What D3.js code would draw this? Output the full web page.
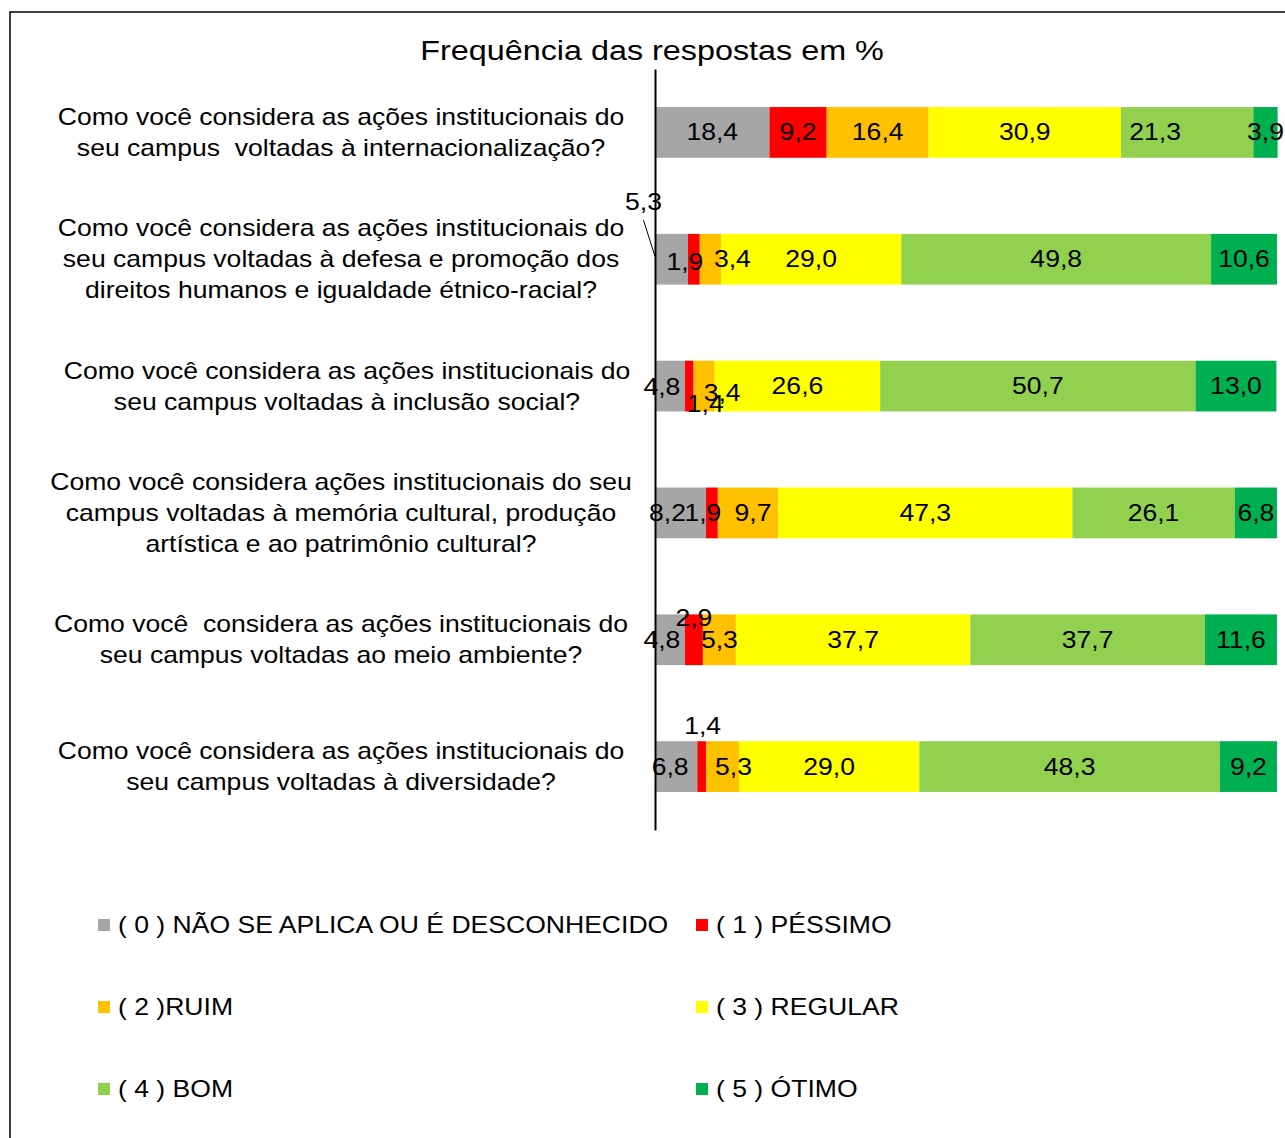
<!DOCTYPE html>
<html><head><meta charset="utf-8">
<script src="https://cdn.jsdelivr.net/npm/d3@7"></script>
<style>body{margin:0;background:#fff}svg{display:block;font-family:"Liberation Sans",Arial,sans-serif}</style>
</head><body>
<svg id="c" width="1285" height="1138"></svg>
<script>
const title = "Frequência das respostas em %";
const categories = [
  "Como você considera as ações institucionais do\nseu campus  voltadas à internacionalização?",
  "Como você considera as ações institucionais do\nseu campus voltadas à defesa e promoção dos\ndireitos humanos e igualdade étnico-racial?",
  "Como você considera as ações institucionais do\nseu campus voltadas à inclusão social?",
  "Como você considera ações institucionais do seu\ncampus voltadas à memória cultural, produção\nartística e ao patrimônio cultural?",
  "Como você  considera as ações institucionais do\nseu campus voltadas ao meio ambiente?",
  "Como você considera as ações institucionais do\nseu campus voltadas à diversidade?"
];
const seriesNames = ["( 0 ) NÃO SE APLICA OU É DESCONHECIDO","( 1 ) PÉSSIMO","( 2 )RUIM","( 3 ) REGULAR","( 4 ) BOM","( 5 ) ÓTIMO"];
const seriesColors = ["#A6A6A6","#FF0000","#FFC000","#FFFF00","#92D050","#00B050"];
const naoSeAplica = [18.4, 5.3, 4.8, 8.2, 4.8, 6.8];
const pessimo     = [9.2, 1.9, 1.4, 1.9, 2.9, 1.4];
const ruim        = [16.4, 3.4, 3.4, 9.7, 5.3, 5.3];
const regular     = [30.9, 29.0, 26.6, 47.3, 37.7, 29.0];
const bom         = [21.3, 49.8, 50.7, 26.1, 37.7, 48.3];
const otimo       = [3.9, 10.6, 13.0, 6.8, 11.6, 9.2];
const seriesValues = [naoSeAplica, pessimo, ruim, regular, bom, otimo];

// label placement adjustments (row-series : [dx, dy]) to mimic hand-placed labels
const nudge = {
  "0-4":[-32,0],
  "1-0":[-28,-57],"1-1":[-9,3],"1-2":[22,0],
  "2-0":[-8,1],"2-1":[16,18],"2-2":[18,7],
  "3-0":[-13,0],"3-1":[-9,0],"3-2":[5,0],
  "4-0":[-8,0],"4-1":[0,-22],
  "5-0":[-6,0],"5-1":[1,-41],"5-2":[11,0]
};
const leader = {"1-0":true};
const SX = 1.155; // horizontal stretch of the reference's text

const svg = d3.select("#c");
svg.append("rect").attr("x",10).attr("y",12).attr("width",1300).attr("height",1160)
  .attr("fill","#fff").attr("stroke","#000").attr("stroke-width",1.5);

function addText(x, y, size, anchor){
  return svg.append("g").attr("transform",`translate(${x},${y}) scale(${SX},1)`)
    .append("text").attr("x",0).attr("y",0).attr("text-anchor",anchor)
    .attr("font-size",size).attr("fill","#000").style("white-space","pre");
}

addText(652,60,28,"middle").text(title);

const x = d3.scaleLinear().domain([0,100]).range([655,1277]);
const y = d3.scaleBand().domain(d3.range(categories.length)).range([69,830])
  .paddingInner(0.6).paddingOuter(0.3);

const rows = categories.map((c,i)=>{
  let cum=0;
  return seriesValues.map((vals,s)=>{const v=vals[i];const o={row:i,s,v,x0:cum,x1:cum+v};cum+=v;return o;});
});

const g = svg.append("g");
rows.forEach(r=>{
  g.selectAll(null).data(r).enter().append("rect")
    .attr("x",d=>x(d.x0)).attr("width",d=>x(d.x1)-x(d.x0))
    .attr("y",d=>y(d.row)).attr("height",y.bandwidth())
    .attr("fill",d=>seriesColors[d.s]);
});

// axis line
const axis = d3.axisLeft(y).tickSize(0).tickSizeOuter(0).tickFormat("");
svg.append("g").attr("transform","translate(655,0)").call(axis)
  .call(g=>g.select(".domain").attr("stroke","#000").attr("stroke-width",2))
  .call(g=>g.selectAll(".tick").remove());

// category labels
const catDx = {2:6};
categories.forEach((c,i)=>{
  const lines=c.split("\n");
  const cy=y(i)+y.bandwidth()/2;
  const lh=31;
  const t=addText(341+(catDx[i]||0), cy, 23, "middle");
  lines.forEach((l,k)=>{
    t.append("tspan").attr("x",0).attr("y",(k-(lines.length-1)/2)*lh).attr("dy","0.35em").text(l);
  });
});

// data labels
const fmt = v=>d3.format(".1f")(v).replace(".",",");
rows.forEach(r=>{
  r.forEach(d=>{
    const key=d.row+"-"+d.s;
    const n=nudge[key]||[0,0];
    const cx=(x(d.x0)+x(d.x1))/2+n[0];
    const cy=y(d.row)+y.bandwidth()/2+n[1];
    if(leader[key]){
      svg.append("line").attr("x1",cx).attr("y1",cy+18).attr("x2",655).attr("y2",cy+54)
        .attr("stroke","#000").attr("stroke-width",1);
    }
    addText(cx, cy, 23, "middle").attr("dy","0.35em").text(fmt(d.v));
  });
});

// legend
const legCols=[98,696], legRows=[925,1007,1089];
seriesNames.forEach((name,i)=>{
  const lx=legCols[i%2], ly=legRows[Math.floor(i/2)];
  svg.append("rect").attr("x",lx).attr("y",ly-6).attr("width",12).attr("height",12).attr("fill",seriesColors[i]);
  addText(lx+20, ly, 23, "start").attr("dy","0.35em").text(name);
});
</script>
</body></html>
